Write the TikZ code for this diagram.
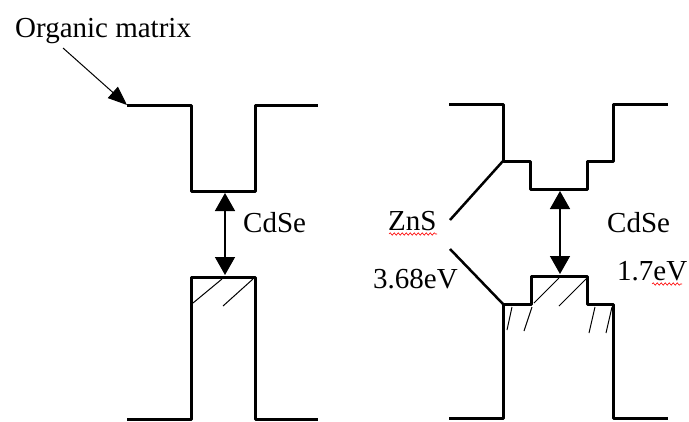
\documentclass[tikz,border=0pt]{standalone}
\usepackage{fontspec}
\setmainfont{Liberation Serif}
\usetikzlibrary{arrows.meta,decorations.pathmorphing}
\begin{document}
\begin{tikzpicture}[x=1pt,y=-1pt,
  band/.style={line width=3pt,line join=round},
  hatch/.style={line width=1pt},
  gaparrow/.style={line width=1.5pt,{Triangle[length=18pt,width=20pt]}-{Triangle[length=18pt,width=20pt]}},
  ptr/.style={line width=1pt,-{Triangle[length=19pt,width=15pt]}},
  lbl/.style={anchor=base west,inner sep=0pt,font=\fontsize{29}{34}\selectfont},
  squig/.style={red,line width=0.6pt,decorate,decoration={snake,amplitude=1.2pt,segment length=4pt}}]
\useasboundingbox (0,0) rectangle (689,421);
% left: CdSe in organic matrix
\draw[band] (127,105) -- (191,105) -- (191,191) -- (255,191) -- (255,105) -- (318,105);
\draw[band] (127,419) -- (191,419) -- (191,277) -- (255,277) -- (255,419) -- (318,419);
\draw[hatch] (193,303) -- (222,279);
\draw[hatch] (223,306) -- (253,279);
\coordinate (Lc) at (225,193);
\coordinate (Lv) at (225,275);
\draw[gaparrow] (Lc) -- (Lv);
\node[lbl] (om) at (15,37) {Organic matrix};
\coordinate (omtail) at (63,48);
\coordinate (omtip) at (127,105);
\draw[ptr] (omtail) -- (omtip);
\node[lbl] (cdse1) at (243,232) {CdSe};
% right: CdSe/ZnS core-shell
\draw[band] (449,104) -- (503,104) -- (503,161) -- (530,161) -- (530,189) -- (587,189) -- (587,161) -- (613,161) -- (613,104) -- (668,104);
\draw[band] (449,418) -- (503,418) -- (503,304) -- (531,304) -- (531,276) -- (587,276) -- (587,304) -- (613,304) -- (613,418) -- (668,418);
\draw[line width=2.5pt] (503,161) -- (450,220);
\draw[line width=2.5pt] (450,249) -- (503,304);
\draw[hatch] (534,303) -- (559,278);
\draw[hatch] (559,306) -- (587,278);
\draw[hatch] (512,307) -- (507,330);
\draw[hatch] (532,307) -- (524,331);
\draw[hatch] (595,307) -- (589,333);
\draw[hatch] (612,307) -- (606,333);
\coordinate (Rc) at (560,191);
\coordinate (Rv) at (560,274);
\draw[gaparrow] (Rc) -- (Rv);
\node[lbl] (zns) at (388,230) {ZnS};
\node[lbl] (e1) at (373,288) {3.68eV};
\node[lbl] (cdse2) at (607,232) {CdSe};
\node[lbl] (e2) at (617,280) {1.7eV};
\draw[squig] (389,234) -- (437,234);
\draw[squig] (652,284) -- (682,284);
\end{tikzpicture}
\end{document}
